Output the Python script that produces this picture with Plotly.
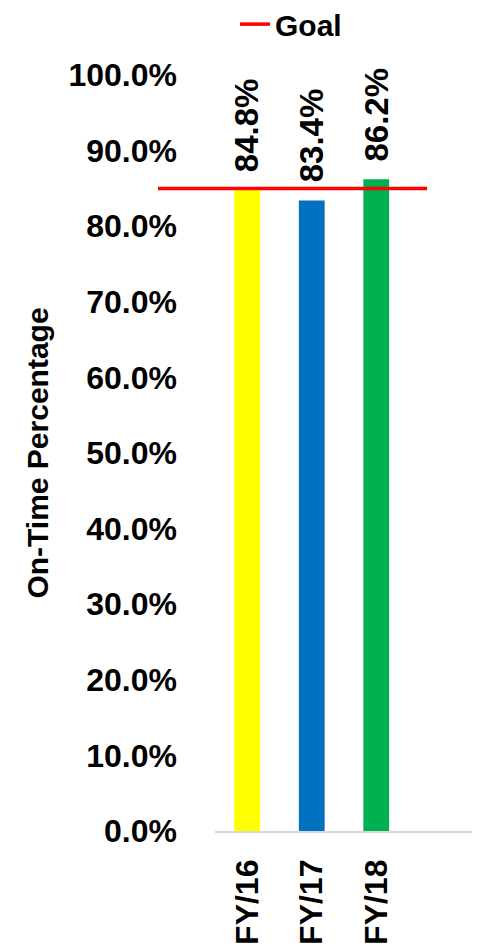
import plotly.graph_objects as go

categories = ["FY/16", "FY/17", "FY/18"]
on_time = [0.848, 0.834, 0.862]
goal_name = "Goal"
goal_value = 0.85
bar_colors = ["#FFFF00", "#0070C0", "#00B050"]
y_title = "On-Time Percentage"

FONT = "Liberation Sans"
x_pos = list(range(len(categories)))

fig = go.Figure()
fig.add_trace(go.Bar(
    x=x_pos, y=on_time, width=0.4,
    marker=dict(color=bar_colors, line=dict(width=0)),
    showlegend=False, hoverinfo="skip",
))

for xi, v in zip(x_pos, on_time):
    fig.add_annotation(
        x=xi, y=v, xref="x", yref="y", text=f"{v*100:.1f}%",
        textangle=-90, showarrow=False, yanchor="bottom", yshift=16,
        font=dict(family=FONT, size=33, color="#000000", weight="bold"),
    )

fig.add_shape(
    type="line", xref="paper", yref="y", x0=-0.221, x1=0.822,
    y0=goal_value, y1=goal_value, line=dict(color="#FF0000", width=3.5),
    showlegend=True, name=goal_name,
)

fig.update_layout(
    width=480, height=948, autosize=False,
    margin=dict(l=207, r=15, t=67, b=125, autoexpand=False),
    paper_bgcolor="white", plot_bgcolor="white",
    font=dict(family=FONT, color="#000000", weight="bold"),
    showlegend=True,
    legend=dict(orientation="h", x=0.0775, xanchor="left", y=0.983, yanchor="middle",
                yref="container",
                font=dict(family=FONT, size=30, weight="bold"),
                bgcolor="rgba(0,0,0,0)"),
    xaxis=dict(
        range=[-0.5, 3.5], tickvals=x_pos, ticktext=categories,
        tickangle=-90, tickfont=dict(family=FONT, size=32, weight="bold"),
        showgrid=False, zeroline=False, showline=True, linecolor="#D9D9D9", linewidth=1.5,
        ticks="", ticklabelstandoff=14, fixedrange=True,
    ),
    yaxis=dict(
        range=[0, 1], dtick=0.1, tickformat=".1%",
        tickfont=dict(family=FONT, size=32, weight="bold"),
        showgrid=False, zeroline=False, showline=False, ticks="",
        ticklabelstandoff=37,
        title=dict(text=y_title, font=dict(family=FONT, size=30, weight="bold"), standoff=10),
        fixedrange=True,
    ),
)

fig.write_html("out.html")
